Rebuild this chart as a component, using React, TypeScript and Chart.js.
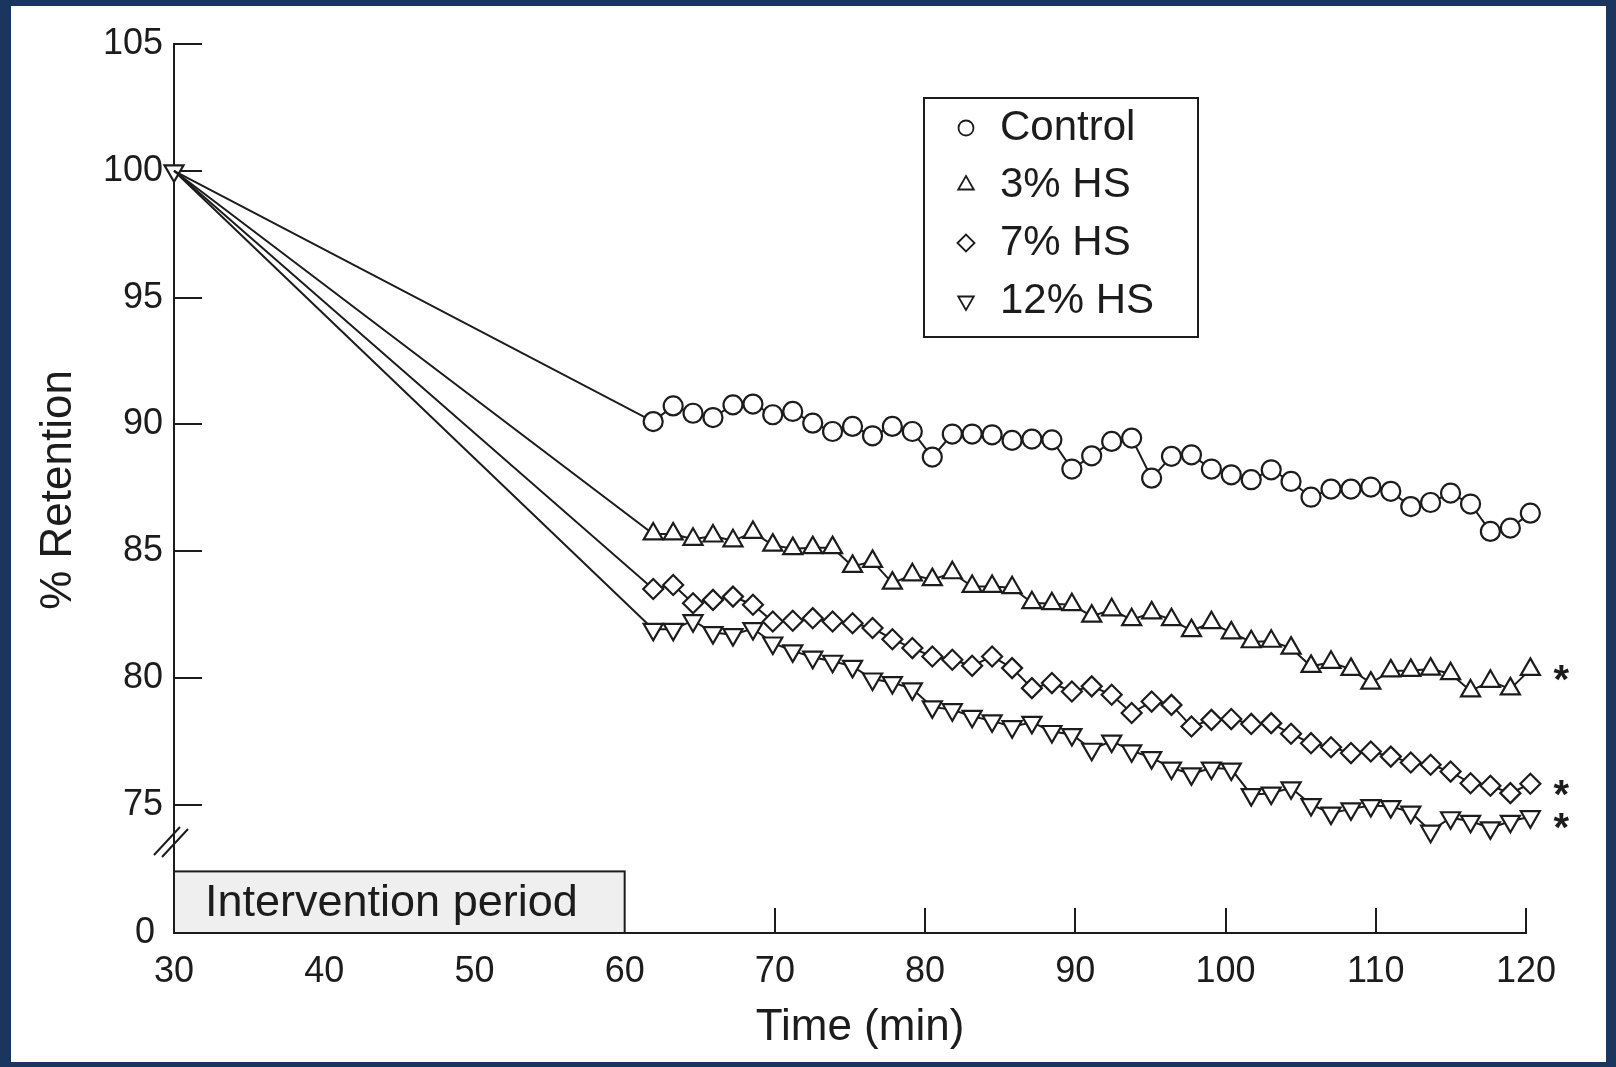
import React, { useEffect, useRef } from 'react';
import { Chart, registerables } from 'chart.js';

Chart.register(...registerables);

// ---------------- data ----------------
const startTime = 30;
const startValue = 100;

const sampleTimes = [
  61.9, 63.23, 64.55, 65.88, 67.21, 68.54, 69.86, 71.19, 72.52, 73.84,
  75.17, 76.5, 77.82, 79.15, 80.48, 81.81, 83.13, 84.46, 85.79, 87.11,
  88.44, 89.77, 91.09, 92.42, 93.75, 95.08, 96.4, 97.73, 99.06, 100.38,
  101.71, 103.04, 104.36, 105.69, 107.02, 108.35, 109.67, 111.0, 112.33, 113.65,
  114.98, 116.31, 117.63, 118.96, 120.29,
];

const controlValues = [
  90.11, 90.73, 90.44, 90.27, 90.77, 90.8, 90.38, 90.51, 90.05, 89.72,
  89.92, 89.55, 89.92, 89.72, 88.71, 89.62, 89.62, 89.59, 89.37, 89.42,
  89.39, 88.24, 88.76, 89.33, 89.46, 87.88, 88.74, 88.8, 88.24, 88.01,
  87.82, 88.21, 87.75, 87.13, 87.45, 87.45, 87.53, 87.36, 86.76, 86.92,
  87.29, 86.86, 85.78, 85.91, 86.5,
];

const hs3Values = [
  85.68, 85.68, 85.47, 85.6, 85.41, 85.74, 85.24, 85.1, 85.14, 85.14,
  84.4, 84.6, 83.74, 84.07, 83.88, 84.15, 83.61, 83.61, 83.56, 82.97,
  82.93, 82.89, 82.44, 82.69, 82.3, 82.57, 82.3, 81.87, 82.18, 81.78,
  81.43, 81.45, 81.18, 80.46, 80.62, 80.34, 79.8, 80.28, 80.3, 80.35,
  80.17, 79.49, 79.87, 79.57, 80.34,
];

const hs7Values = [
  83.51, 83.67, 82.95, 83.08, 83.21, 82.89, 82.23, 82.26, 82.36, 82.23,
  82.16, 81.97, 81.53, 81.18, 80.85, 80.72, 80.48, 80.85, 80.39, 79.6,
  79.8, 79.47, 79.67, 79.34, 78.62, 79.07, 78.94, 78.09, 78.35, 78.38,
  78.19, 78.22, 77.8, 77.43, 77.27, 77.04, 77.1, 76.9, 76.67, 76.58,
  76.31, 75.85, 75.75, 75.46, 75.83,
];

const hs12Values = [
  81.92, 81.92, 82.26, 81.79, 81.71, 81.95, 81.38, 81.07, 80.82, 80.66,
  80.46, 79.96, 79.82, 79.57, 78.86, 78.75, 78.49, 78.31, 78.08, 78.25,
  77.89, 77.77, 77.19, 77.51, 77.13, 76.86, 76.45, 76.22, 76.45, 76.41,
  75.4, 75.46, 75.67, 75.01, 74.67, 74.84, 74.97, 74.93, 74.71, 73.96,
  74.49, 74.35, 74.09, 74.35, 74.53,
];

const seriesNames = ['Control', '3% HS', '7% HS', '12% HS'];
const seriesValues = [controlValues, hs3Values, hs7Values, hs12Values];
const starredSeries = [false, true, true, true];

const xTickValues = [30, 40, 50, 60, 70, 80, 90, 100, 110, 120];
const xTickMarksFrom = 70;
const yTickValues = [75, 80, 85, 90, 95, 100, 105];
const lowTickValues = [0];

const xTitle = 'Time (min)';
const yTitle = '% Retention';
const interventionLabel = 'Intervention period';
const interventionStart = 30;
const interventionEnd = 60;

// ---------------- styling ----------------
const INK = '#1c1c1c';
const NAVY = '#1b365e';
const FONT = '"Liberation Sans", Arial, Helvetica, sans-serif';
const pointStyles = ['circle', 'triangle', 'rectRot', 'triangle'];
const pointRotations = [0, 0, 0, 180];
const pointRadii = [9.5, 11, 10, 11];
const legendRadii = [7.5, 9, 8.5, 9];

function drawMarker(ctx: CanvasRenderingContext2D, style: string, x: number, y: number, r: number, rot: number) {
  ctx.beginPath();
  if (style === 'circle') {
    ctx.arc(x, y, r, 0, Math.PI * 2);
  } else if (style === 'triangle') {
    let a = (rot * Math.PI) / 180;
    for (let i = 0; i < 3; i++) {
      const px = x + Math.sin(a) * r;
      const py = y - Math.cos(a) * r;
      if (i === 0) ctx.moveTo(px, py);
      else ctx.lineTo(px, py);
      a += (2 * Math.PI) / 3;
    }
    ctx.closePath();
  } else {
    ctx.moveTo(x - r, y);
    ctx.lineTo(x, y - r);
    ctx.lineTo(x + r, y);
    ctx.lineTo(x, y + r);
    ctx.closePath();
  }
  ctx.fillStyle = '#ffffff';
  ctx.fill();
  ctx.stroke();
}

const framePlugin = {
  id: 'frame',
  beforeDraw(chart: any) {
    const { ctx, width, height } = chart;
    ctx.save();
    ctx.fillStyle = NAVY;
    ctx.fillRect(0, 0, width, height);
    ctx.fillStyle = '#ffffff';
    ctx.fillRect(11, 6, width - 21, height - 11);
    ctx.restore();
  },
};

const decorPlugin = {
  id: 'decor',
  afterDraw(chart: any) {
    const { ctx } = chart;
    const xs = chart.scales.x;
    const ys = chart.scales.y;
    const yl = chart.scales.yLow;
    ctx.save();

    // intervention box
    const bx1 = xs.getPixelForValue(interventionStart);
    const bx2 = xs.getPixelForValue(interventionEnd);
    const byTop = yl.getPixelForValue(0.7);
    const byBot = yl.getPixelForValue(0);
    ctx.fillStyle = '#efefef';
    ctx.fillRect(bx1, byTop, bx2 - bx1, byBot - byTop);
    ctx.strokeStyle = INK;
    ctx.lineWidth = 2;
    ctx.strokeRect(bx1, byTop, bx2 - bx1, byBot - byTop);
    ctx.fillStyle = INK;
    ctx.font = `45px ${FONT}`;
    ctx.textAlign = 'left';
    ctx.textBaseline = 'middle';
    ctx.fillText(interventionLabel, bx1 + 31, (byTop + byBot) / 2 + 1);

    // axis break marks
    const ax = ys.right;
    const by = ys.bottom;
    ctx.lineWidth = 2;
    ctx.beginPath();
    ctx.moveTo(ax - 20, by + 10);
    ctx.lineTo(ax + 6, by - 18);
    ctx.moveTo(ax - 12, by + 12);
    ctx.lineTo(ax + 14, by - 16);
    ctx.stroke();

    // axis titles
    ctx.font = `44px ${FONT}`;
    ctx.textAlign = 'center';
    ctx.textBaseline = 'middle';
    ctx.fillText(xTitle, (xs.left + xs.right) / 2 + 10, 1028);
    ctx.save();
    ctx.translate(59, 490);
    ctx.rotate(-Math.PI / 2);
    ctx.fillText(yTitle, 0, 0);
    ctx.restore();

    // significance stars
    ctx.font = `bold 40px ${FONT}`;
    ctx.textAlign = 'center';
    ctx.textBaseline = 'alphabetic';
    seriesNames.forEach((_, k) => {
      if (!starredSeries[k]) return;
      const meta = chart.getDatasetMeta(k);
      const pt = meta.data[meta.data.length - 1];
      ctx.fillText('*', pt.x + 31, pt.y + 24);
    });

    // legend
    const lx = 924, ly = 98, lw = 274, lh = 239;
    ctx.fillStyle = '#ffffff';
    ctx.fillRect(lx, ly, lw, lh);
    ctx.strokeStyle = INK;
    ctx.lineWidth = 2;
    ctx.strokeRect(lx, ly, lw, lh);
    const rows = [126, 183, 241, 299];
    ctx.lineWidth = 1.8;
    seriesNames.forEach((name, k) => {
      ctx.strokeStyle = INK;
      drawMarker(ctx, pointStyles[k], 966, rows[k] + 2, legendRadii[k], pointRotations[k]);
      ctx.fillStyle = INK;
      ctx.font = `42px ${FONT}`;
      ctx.textAlign = 'left';
      ctx.textBaseline = 'middle';
      ctx.fillText(name, 1000, rows[k] + 2);
    });

    ctx.restore();
  },
};

export default function App() {
  const canvasRef = useRef<HTMLCanvasElement | null>(null);

  useEffect(() => {
    document.body.style.margin = '0';
    document.body.style.overflow = 'hidden';
    const canvas = canvasRef.current;
    if (!canvas) return;

    const datasets = seriesNames.map((name, k) => ({
      label: name,
      data: [
        { x: startTime, y: startValue },
        ...sampleTimes.map((t, i) => ({ x: t, y: seriesValues[k][i] })),
      ],
      borderColor: INK,
      borderWidth: 2,
      backgroundColor: '#ffffff',
      pointStyle: pointStyles[k],
      pointRotation: pointRotations[k],
      pointRadius: (c: any) => (c.dataIndex === 0 && k !== 3 ? 0 : pointRadii[k]),
      pointBorderWidth: 2.2,
      pointBorderColor: INK,
      pointBackgroundColor: '#ffffff',
      tension: 0,
      clip: false as any,
      xAxisID: 'x',
      yAxisID: 'y',
    }));

    const tickFont = { family: FONT, size: 36 };

    const fitVertical = (s: any) => {
      s.width = 174;
      s.paddingTop = 0;
      s.paddingBottom = 0;
    };

    const chart = new Chart(canvas, {
      type: 'line',
      data: { datasets },
      options: {
        responsive: false,
        animation: false,
        devicePixelRatio: 1,
        layout: { padding: { top: 44, right: 90, bottom: 10, left: 0 } },
        plugins: {
          legend: { display: false },
          tooltip: { enabled: false },
        },
        scales: {
          x: {
            type: 'linear',
            min: 30,
            max: 120,
            bounds: 'data',
            afterBuildTicks: (s: any) => {
              s.ticks = xTickValues.map((v) => ({ value: v }));
            },
            ticks: {
              font: tickFont,
              color: INK,
              padding: 42,
              maxRotation: 0,
              autoSkip: false,
            },
            grid: {
              drawOnChartArea: false,
              drawTicks: true,
              tickLength: -25,
              lineWidth: 2,
              color: (c: any) => (c.tick && c.tick.value >= xTickMarksFrom ? INK : 'rgba(0,0,0,0)'),
            },
            border: { display: true, color: INK, width: 2 },
            afterFit: (s: any) => {
              s.height = 124;
            },
          },
          y: {
            type: 'linear',
            position: 'left',
            stack: 'left',
            stackWeight: 801,
            weight: 2,
            min: 73.415,
            max: 105,
            bounds: 'data',
            afterBuildTicks: (s: any) => {
              s.ticks = yTickValues.map((v) => ({ value: v }));
            },
            ticks: { font: tickFont, color: INK, padding: 39 },
            grid: { drawOnChartArea: false, tickLength: -28, lineWidth: 2, color: INK },
            border: { display: true, color: INK, width: 2 },
            afterFit: fitVertical,
          },
          yLow: {
            type: 'linear',
            position: 'left',
            stack: 'left',
            stackWeight: 88,
            weight: 1,
            min: 0,
            max: 1,
            bounds: 'data',
            afterBuildTicks: (s: any) => {
              s.ticks = lowTickValues.map((v) => ({ value: v }));
            },
            ticks: { font: tickFont, color: INK, padding: 47 },
            grid: { drawOnChartArea: false, tickLength: -28, lineWidth: 2, color: 'rgba(0,0,0,0)' },
            border: { display: true, color: INK, width: 2 },
            afterFit: fitVertical,
          },
        },
      } as any,
      plugins: [framePlugin, decorPlugin],
    });

    return () => {
      chart.destroy();
    };
  }, []);

  return (
    <div style={{ width: 1616, height: 1067, position: 'relative' }}>
      <canvas ref={canvasRef} width={1616} height={1067} style={{ display: 'block' }} />
    </div>
  );
}
